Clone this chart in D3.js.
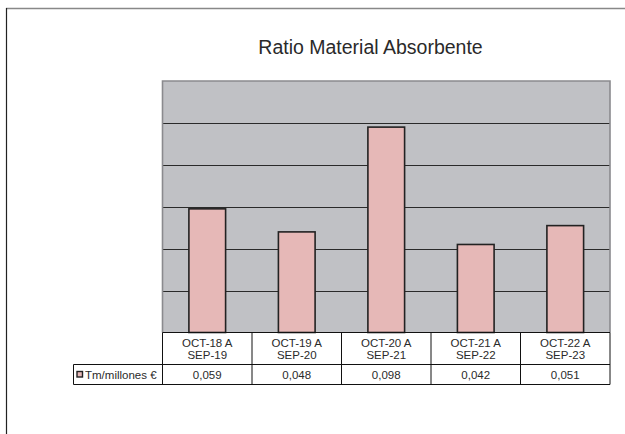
<!DOCTYPE html>
<html><head><meta charset="utf-8">
<script src="https://cdn.jsdelivr.net/npm/d3@7"></script>
<style>body{margin:0;background:#fff}svg{display:block}text{font-family:"Liberation Sans",Arial,sans-serif;fill:#2a2a2a}</style>
</head><body><svg id="c" width="625" height="434"></svg>
<script>
const title = "Ratio Material Absorbente";
const categoriesLine1 = ["OCT-18 A","OCT-19 A","OCT-20 A","OCT-21 A","OCT-22 A"];
const categoriesLine2 = ["SEP-19","SEP-20","SEP-21","SEP-22","SEP-23"];
const seriesName = "Tm/millones €";
const values = [0.059, 0.048, 0.098, 0.042, 0.051];
const valueLabels = ["0,059","0,048","0,098","0,042","0,051"];
const yTicks = [0, 0.02, 0.04, 0.06, 0.08, 0.10, 0.12];

const svg = d3.select("#c");
const L = 162.5, R = 610, T = 81, B = 332.5;
const cats = d3.range(values.length);
const x = d3.scaleBand().domain(cats).range([L, R]).paddingInner(0).paddingOuter(0);
const y = d3.scaleLinear().domain([0, 0.12]).range([B, T]);

// outer frame
svg.append("line").attr("x1",6).attr("y1",8.5).attr("x2",625).attr("y2",8.5).attr("stroke","#888").attr("stroke-width",1.5);
svg.append("line").attr("x1",6.5).attr("y1",8).attr("x2",6.5).attr("y2",434).attr("stroke","#222").attr("stroke-width",1.2);

// title
svg.append("text").attr("x",370.5).attr("y",53.5).attr("text-anchor","middle").attr("font-size",19.5).text(title);

// plot area
svg.append("rect").attr("x",L).attr("y",T).attr("width",R-L).attr("height",B-T).attr("fill","#c0c1c5");
// gridlines
svg.append("g").selectAll("line").data(yTicks.filter(t=>t>0 && t<0.12)).join("line")
  .attr("x1",L).attr("x2",R).attr("y1",d=>Math.round(y(d))+0.5).attr("y2",d=>Math.round(y(d))+0.5)
  .attr("stroke","#2a2a2a").attr("stroke-width",1.2);
// plot border (gray top/left/right)
svg.append("path").attr("d",`M${L},${B} V${T} H${R} V${B}`).attr("fill","none").attr("stroke","#8a8a8e").attr("stroke-width",1.6);

// bars
const bw = x.bandwidth()*0.41;
svg.append("g").selectAll("rect").data(values).join("rect")
  .attr("x",(d,i)=>x(i)+x.bandwidth()/2-bw/2).attr("width",bw)
  .attr("y",d=>y(d)).attr("height",d=>B-y(d))
  .attr("fill","#e6b8b7").attr("stroke","#222").attr("stroke-width",1.6);

// data table
const rowH2 = [364.5, 384.5], legL = 73.5;
const tg = svg.append("g").attr("stroke","#111").attr("stroke-width",1).attr("fill","none");
tg.append("line").attr("x1",L).attr("x2",R).attr("y1",B).attr("y2",B);
tg.append("line").attr("x1",legL).attr("x2",R).attr("y1",rowH2[0]).attr("y2",rowH2[0]);
tg.append("line").attr("x1",legL).attr("x2",R).attr("y1",rowH2[1]).attr("y2",rowH2[1]);
tg.append("line").attr("x1",legL).attr("x2",legL).attr("y1",rowH2[0]).attr("y2",rowH2[1]);
tg.selectAll("line.v").data(cats.concat([values.length])).join("line").attr("class","v")
  .attr("x1",i=>i<values.length?x(i):R).attr("x2",i=>i<values.length?x(i):R)
  .attr("y1",B).attr("y2",rowH2[1]);

const hg = svg.append("g").attr("font-size",11.5).attr("text-anchor","middle");
hg.selectAll("text.l1").data(categoriesLine1).join("text").attr("class","l1")
  .attr("x",(d,i)=>x(i)+x.bandwidth()/2).attr("y",346.5).text(d=>d);
hg.selectAll("text.l2").data(categoriesLine2).join("text").attr("class","l2")
  .attr("x",(d,i)=>x(i)+x.bandwidth()/2).attr("y",358.5).text(d=>d);
hg.selectAll("text.v").data(valueLabels).join("text").attr("class","v")
  .attr("x",(d,i)=>x(i)+x.bandwidth()/2).attr("y",378.5).text(d=>d);

// legend key
svg.append("rect").attr("x",77).attr("y",371.5).attr("width",5.5).attr("height",5.5).attr("fill","#e6b8b7").attr("stroke","#222").attr("stroke-width",1.4);
svg.append("text").attr("x",85).attr("y",378.5).attr("font-size",11.5).text(seriesName);
</script></body></html>
